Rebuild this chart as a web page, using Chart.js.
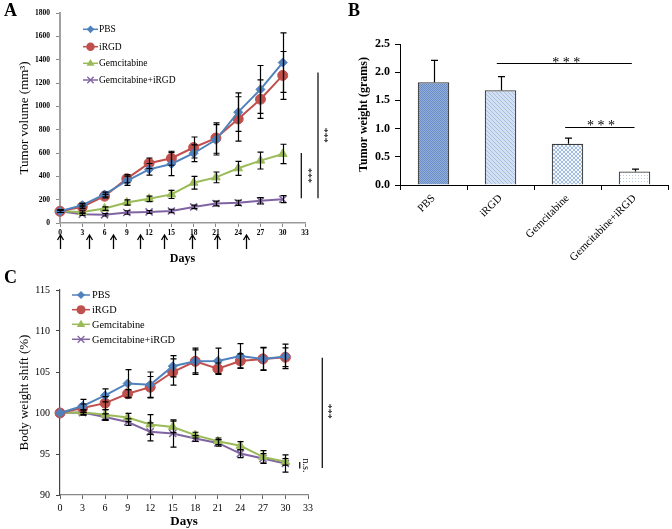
<!DOCTYPE html>
<html><head><meta charset="utf-8">
<script src="https://cdn.jsdelivr.net/npm/chart.js@4/dist/chart.umd.min.js"></script>
<style>
html,body{margin:0;padding:0;background:#fff;width:672px;height:529px;overflow:hidden;position:relative}
canvas{position:absolute}
.lbl{position:absolute;font:bold 18px "Liberation Serif",serif;color:#000;line-height:18px}
</style></head><body>
<canvas id="cA" width="340" height="270" style="left:0;top:0"></canvas>
<canvas id="cB" width="332" height="270" style="left:340px;top:0"></canvas>
<canvas id="cC" width="340" height="259" style="left:0;top:270px"></canvas>
<div class="lbl" style="left:4px;top:1px">A</div>
<div class="lbl" style="left:348px;top:1px">B</div>
<div class="lbl" style="left:4px;top:268px">C</div>
<script>
// ---------- DATA ----------
const days = [0, 3, 6, 9, 12, 15, 18, 21, 24, 27, 30];
const seriesNames = ['PBS', 'iRGD', 'Gemcitabine', 'Gemcitabine+iRGD'];

// Panel A: tumor volume (mm3)
const volPBS      = [100, 153, 245, 362, 460, 506, 598, 713, 950, 1145, 1375];
const volPBSErr   = [10, 15, 20, 40, 50, 100, 72, 130, 165, 205, 255];
const volIRGD     = [100, 138, 230, 380, 512, 555, 647, 728, 892, 1061, 1265];
const volIRGDErr  = [10, 15, 15, 35, 45, 60, 90, 130, 190, 165, 205];
const volGem      = [100, 95, 124, 176, 207, 245, 345, 391, 469, 535, 592];
const volGemErr   = [10, 10, 15, 22, 23, 35, 55, 46, 60, 72, 83];
const volCombo    = [100, 75, 70, 90, 95, 103, 138, 167, 173, 190, 204];
const volComboErr = [10, 10, 10, 15, 12, 15, 15, 20, 22, 27, 30];
const arrowDays   = [0, 3.85, 7.1, 10.8, 14, 17.8, 21.1, 25];

// Panel B: tumor weight (grams)
const weightCats = ['PBS', 'iRGD', 'Gemcitabine', 'Gemcitabine+iRGD'];
const weightVals = [1.82, 1.68, 0.73, 0.24];
const weightErr  = [0.39, 0.24, 0.10, 0.04];

// Panel C: body weight shift (%)
const bwPBS      = [100, 100.85, 102.15, 103.6, 103.45, 105.7, 106.3, 106.35, 106.95, 106.6, 106.9];
const bwPBSErr   = [0, 0.8, 0.8, 1.7, 1.55, 1.3, 1.4, 1.55, 1.5, 1.35, 1.5];
const bwIRGD     = [100, 100.6, 101.2, 102.35, 103.15, 105.0, 106.3, 105.4, 106.35, 106.6, 106.8];
const bwIRGDErr  = [0, 0.5, 0.8, 0.5, 1.3, 1.6, 1.6, 0.7, 0.85, 1.4, 1.15];
const bwGem      = [100, 100.1, 99.8, 99.45, 98.6, 98.3, 97.3, 96.55, 96.0, 94.65, 94.05];
const bwGemErr   = [0, 0.3, 0.6, 0.5, 1.2, 0.7, 0.35, 0.4, 0.5, 0.75, 0.4];
const bwCombo    = [100, 100.05, 99.5, 98.9, 97.7, 97.5, 96.9, 96.35, 95.05, 94.45, 93.85];
const bwComboErr = [0, 0.3, 0.4, 0.4, 1.1, 1.65, 0.35, 0.4, 0.5, 0.6, 1.05];

// ---------- STYLE ----------
const SERIF = '"Liberation Serif", "Times New Roman", serif';
Chart.defaults.font.family = SERIF;
Chart.defaults.color = '#000';
const styles = [
  {color:'#4F81BD', style:'rectRot', r:4.5},
  {color:'#C0504D', style:'circle', r:5},
  {color:'#9BBB59', style:'triangle', r:5},
  {color:'#8064A2', style:'crossRot', r:5}
];
const plainNum = v => String(v);

function drawMarker(ctx, style, r, x, y, color){
  ctx.save();
  ctx.fillStyle = color; ctx.strokeStyle = color; ctx.lineWidth = 1.3;
  ctx.beginPath();
  if(style==='circle'){ ctx.arc(x,y,r,0,Math.PI*2); ctx.fill(); }
  else if(style==='rectRot'){ ctx.moveTo(x,y-r); ctx.lineTo(x+r,y); ctx.lineTo(x,y+r); ctx.lineTo(x-r,y); ctx.closePath(); ctx.fill(); }
  else if(style==='triangle'){ ctx.moveTo(x,y-r); ctx.lineTo(x+r*0.95,y+r*0.6); ctx.lineTo(x-r*0.95,y+r*0.6); ctx.closePath(); ctx.fill(); }
  else { const d=r*0.75; ctx.moveTo(x-d,y-d); ctx.lineTo(x+d,y+d); ctx.moveTo(x+d,y-d); ctx.lineTo(x-d,y+d); ctx.stroke(); }
  ctx.restore();
}

function drawLegend(ctx, x0, x1, tx, ys, fontSize, scale){
  seriesNames.forEach((name,i)=>{
    const s = styles[i], y = ys[i];
    ctx.save();
    ctx.strokeStyle = s.color; ctx.lineWidth = 1.5;
    ctx.beginPath(); ctx.moveTo(x0,y); ctx.lineTo(x1,y); ctx.stroke();
    drawMarker(ctx, s.style, s.r*scale, (x0+x1)/2, y, s.color);
    ctx.fillStyle = '#000'; ctx.font = fontSize+'px '+SERIF;
    ctx.textAlign='left'; ctx.textBaseline='middle';
    ctx.fillText(name, tx, y+0.5);
    ctx.restore();
  });
}

const errorBars = {
  id:'errorBars',
  afterDatasetsDraw(chart, args, opts){
    const ctx = chart.ctx, ys = chart.scales.y;
    ctx.save(); ctx.strokeStyle='#000'; ctx.lineWidth = opts.lineWidth || 1.2;
    chart.data.datasets.forEach((ds,i)=>{
      if(!ds.errors) return;
      const meta = chart.getDatasetMeta(i);
      meta.data.forEach((el,j)=>{
        const e = ds.errors[j]; if(!e) return;
        const v = ds.data[j]; const val = (typeof v === 'object') ? v.y : v;
        const yt = ys.getPixelForValue(val+e), yb = ys.getPixelForValue(val-e), yc = ys.getPixelForValue(val);
        const x = Math.round(el.x)+0.5, w = opts.cap || 3;
        ctx.beginPath();
        ctx.moveTo(x, opts.upOnly ? yc : yb); ctx.lineTo(x, yt);
        ctx.moveTo(x-w, yt); ctx.lineTo(x+w, yt);
        if(!opts.upOnly){ ctx.moveTo(x-w, yb); ctx.lineTo(x+w, yb); }
        ctx.stroke();
      });
    });
    ctx.restore();
  }
};

function lineDS(i, vals, errs){
  const s = styles[i];
  return {
    label: seriesNames[i],
    data: days.map((d,k)=>({x:d, y:vals[k]})),
    errors: errs,
    borderColor: s.color, backgroundColor: s.color,
    pointStyle: s.style, pointRadius: s.r, pointBorderColor: s.color, pointBackgroundColor: s.color,
    pointBorderWidth: s.style==='crossRot' ? 1.5 : 1,
    borderWidth: 2, tension: 0, clip: false
  };
}

function sigLine(ctx, x, y1, y2, text, tx, ty, size){
  ctx.save();
  ctx.strokeStyle='#000'; ctx.lineWidth=1.2;
  ctx.beginPath(); ctx.moveTo(x,y1); ctx.lineTo(x,y2); ctx.stroke();
  if(text){
    ctx.translate(tx,ty); ctx.rotate(Math.PI/2);
    ctx.fillStyle='#000'; ctx.font=size+'px '+SERIF; ctx.textAlign='center'; ctx.textBaseline='middle';
    ctx.fillText(text,0,0);
  }
  ctx.restore();
}

// ---------- PANEL A ----------
const annotA = {id:'annotA', afterDraw(chart){
  const {ctx, scales:{x,y}, chartArea} = chart;
  ctx.save();
  ctx.strokeStyle='#000'; ctx.lineWidth=1.3;
  arrowDays.forEach(d=>{
    const px = Math.round(x.getPixelForValue(d))+0.5, top = chartArea.bottom+12, bot = chartArea.bottom+26;
    ctx.beginPath(); ctx.moveTo(px,bot); ctx.lineTo(px,top+1); ctx.stroke();
    ctx.beginPath(); ctx.moveTo(px-3,top+5); ctx.lineTo(px,top); ctx.lineTo(px+3,top+5); ctx.stroke();
  });
  ctx.restore();
  const x1 = x.getPixelForValue(34.75), x2 = x.getPixelForValue(32.5);
  sigLine(ctx, x1, y.getPixelForValue(1290), y.getPixelForValue(213), '***', x1+6, (y.getPixelForValue(1290)+y.getPixelForValue(213))/2, 10);
  sigLine(ctx, x2, y.getPixelForValue(600), y.getPixelForValue(213), '***', x2+6, (y.getPixelForValue(600)+y.getPixelForValue(213))/2, 10);
  drawLegend(ctx, 83, 98, 99, [29.3, 46.7, 63.3, 80], 9.5, 0.85);
}};

new Chart(document.getElementById('cA'), {
  type:'line',
  data:{datasets:[lineDS(0,volPBS,volPBSErr), lineDS(1,volIRGD,volIRGDErr), lineDS(2,volGem,volGemErr), lineDS(3,volCombo,volComboErr)]},
  options:{
    responsive:false, devicePixelRatio:1, animation:false,
    layout:{padding:{top:13,right:35,left:0,bottom:0}},
    plugins:{legend:{display:false}, tooltip:{enabled:false}, errorBars:{cap:3,lineWidth:1.2}},
    scales:{
      x:{type:'linear', min:0, max:33, afterFit:s=>{s.height=47;},
        ticks:{stepSize:3, font:{size:7.5, weight:'bold'}, padding:2, maxRotation:0, autoSkip:false, callback:plainNum},
        grid:{drawOnChartArea:false, tickLength:4, color:'#888'},
        border:{color:'#999', width:1.5},
        title:{display:true, text:'Days', font:{size:12, weight:'bold'}, padding:{top:0,bottom:4}}},
      y:{min:0, max:1800, afterFit:s=>{s.width=60;},
        ticks:{stepSize:200, font:{size:7.5, weight:'bold'}, padding:6, callback:plainNum},
        grid:{drawOnChartArea:false, tickLength:4, color:'#888'},
        border:{color:'#a0a0a0', width:2},
        title:{display:true, text:'Tumor volume (mm³)', font:{size:13}, padding:{top:17,bottom:0}}}
    }
  },
  plugins:[errorBars, annotA]
});

// ---------- PANEL B ----------
const ctxB = document.getElementById('cB').getContext('2d');
function makePattern(kind){
  const c = document.createElement('canvas'); const g = c.getContext('2d');
  if(kind===0){ c.width=4; c.height=4; g.fillStyle='#93b0dc'; g.fillRect(0,0,4,4); g.fillStyle='#6a8cc4';
    for(let i=0;i<4;i++){ g.fillRect(i,i,1,1); g.fillRect((i+2)%4,i,1,1);} }
  else if(kind===1){ c.width=4; c.height=4; g.fillStyle='#d3e0f2'; g.fillRect(0,0,4,4); g.fillStyle='#a9c0e3';
    for(let i=0;i<4;i++){ g.fillRect(i,i,1,1);} }
  else if(kind===2){ c.width=4; c.height=4; g.fillStyle='#f4f7fc'; g.fillRect(0,0,4,4); g.fillStyle='#a3bce2';
    for(let i=0;i<4;i++){ g.fillRect(i,i,1,1); g.fillRect(3-i,i,1,1);} }
  else { c.width=3; c.height=3; g.fillStyle='#ffffff'; g.fillRect(0,0,3,3); g.fillStyle='#b8cbe8'; g.fillRect(1,1,1,1); }
  return ctxB.createPattern(c,'repeat');
}
const annotB = {id:'annotB', afterDraw(chart){
  const {ctx, scales:{x,y}} = chart;
  ctx.save();
  ctx.strokeStyle='#000'; ctx.lineWidth=1.2; ctx.fillStyle='#000';
  ctx.font='14px '+SERIF; ctx.textAlign='center'; ctx.textBaseline='alphabetic';
  const l1y = Math.round(y.getPixelForValue(2.155))+0.5, l2y = Math.round(y.getPixelForValue(1.025))+0.5;
  ctx.beginPath(); ctx.moveTo(x.getPixelForValue(0.945), l1y); ctx.lineTo(x.getPixelForValue(2.96), l1y); ctx.stroke();
  ctx.fillText('* * *', x.getPixelForValue(1.98), l1y+3);
  ctx.beginPath(); ctx.moveTo(x.getPixelForValue(1.965), l2y); ctx.lineTo(x.getPixelForValue(3.0), l2y); ctx.stroke();
  ctx.fillText('* * *', x.getPixelForValue(2.5), l2y+2);
  ctx.restore();
}};
new Chart(ctxB, {
  type:'bar',
  data:{labels:weightCats, datasets:[{data:weightVals, errors:weightErr,
    backgroundColor:[makePattern(0),makePattern(1),makePattern(2),makePattern(3)],
    borderColor:'#3c3c3c', borderWidth:1.2, barPercentage:0.47, categoryPercentage:1}]},
  options:{
    responsive:false, devicePixelRatio:1, animation:false,
    layout:{padding:{top:44,right:4,left:0,bottom:0}},
    plugins:{legend:{display:false}, tooltip:{enabled:false}, errorBars:{cap:3.5,lineWidth:1.2,upOnly:true}},
    scales:{
      x:{afterFit:s=>{s.height=85;},
        ticks:{font:{size:11}, minRotation:45, maxRotation:45, padding:2, autoSkip:false},
        grid:{display:true, drawOnChartArea:false, offset:true, tickLength:5, color:'#000'},
        border:{color:'#000', width:1}},
      y:{min:0, max:2.5, afterFit:s=>{s.width=60;},
        ticks:{stepSize:0.5, font:{size:12, weight:'bold'}, padding:5, callback:v=>v.toFixed(1)},
        grid:{drawOnChartArea:false, tickLength:5, color:'#000'},
        border:{color:'#000', width:1},
        title:{display:true, text:'Tumor weight (grams)', font:{size:12, weight:'bold'}, padding:{top:17,bottom:0}}}
    }
  },
  plugins:[errorBars, annotB]
});

// ---------- PANEL C ----------
const annotC = {id:'annotC', afterDraw(chart){
  const {ctx, scales:{x,y}} = chart;
  const x1 = x.getPixelForValue(34.9);
  sigLine(ctx, x1, y.getPixelForValue(106.75), y.getPixelForValue(93.3), '***', x1+5, y.getPixelForValue(100.2), 10);
  const x2 = x.getPixelForValue(31.9);
  sigLine(ctx, x2, y.getPixelForValue(94.03), y.getPixelForValue(93.22), 'n.s.', x2+6, y.getPixelForValue(93.6), 10);
  drawLegend(ctx, 72, 90, 92, [25, 39.7, 54.3, 69.3], 10.3, 0.9);
}};
new Chart(document.getElementById('cC'), {
  type:'line',
  data:{datasets:[lineDS(0,bwPBS,bwPBSErr), lineDS(1,bwIRGD,bwIRGDErr), lineDS(2,bwGem,bwGemErr), lineDS(3,bwCombo,bwComboErr)]},
  options:{
    responsive:false, devicePixelRatio:1, animation:false,
    layout:{padding:{top:20,right:32,left:0,bottom:0}},
    plugins:{legend:{display:false}, tooltip:{enabled:false}, errorBars:{cap:3,lineWidth:1.2}},
    scales:{
      x:{type:'linear', min:0, max:33, afterFit:s=>{s.height=34;},
        ticks:{stepSize:3, font:{size:10}, padding:3, maxRotation:0, autoSkip:false, callback:plainNum},
        grid:{drawOnChartArea:false, tickLength:4, color:'#666'},
        border:{color:'#888', width:1.2},
        title:{display:true, text:'Days', font:{size:13, weight:'bold'}, padding:{top:0,bottom:0}}},
      y:{min:90, max:115, afterFit:s=>{s.width=60;},
        ticks:{stepSize:5, font:{size:10}, padding:6, callback:plainNum},
        grid:{drawOnChartArea:false, tickLength:4, color:'#444'},
        border:{color:'#444', width:1.2},
        title:{display:true, text:'Body weight shift (%)', font:{size:13}, padding:{top:17,bottom:0}}}
    }
  },
  plugins:[errorBars, annotC]
});
</script>
</body></html>
